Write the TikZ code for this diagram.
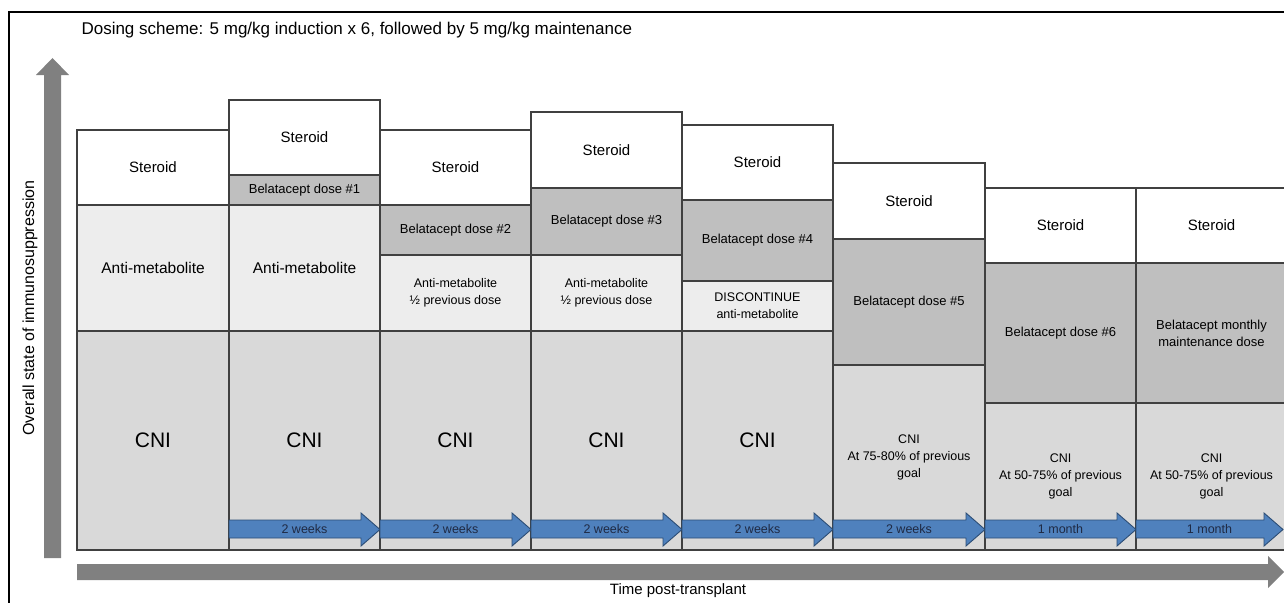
\documentclass[tikz,border=0pt]{standalone}
\usepackage{fontspec}
\setmainfont{Liberation Sans}
\usepackage{tikz}
\usetikzlibrary{positioning}

\definecolor{belagray}{HTML}{BFBFBF}
\definecolor{antigray}{HTML}{EDEDED}
\definecolor{cnigray}{HTML}{D9D9D9}
\definecolor{edgegray}{HTML}{404040}
\definecolor{axisgray}{HTML}{808080}
\definecolor{arrowblue}{HTML}{4F81BD}
\definecolor{arrowedge}{HTML}{2C4D75}
\definecolor{weektext}{HTML}{1F2A44}

\newcommand{\fsz}[2]{\fontsize{#1}{#2}\selectfont}

\tikzset{
  cell/.style={draw=edgegray, line width=1.1pt, rectangle, inner sep=0pt, outer sep=0pt, align=center},
  steroid/.style={cell, fill=white, font=\fsz{15}{18}},
  bela/.style={cell, fill=belagray, font=\fsz{13}{17}},
  anti/.style={cell, fill=antigray, font=\fsz{12.5}{17}},
  cni/.style={cell, fill=cnigray, font=\fsz{12.5}{17}},
  weekarrow/.style={fill=arrowblue, draw=arrowedge, line width=0.9pt, line join=miter},
  weeklabel/.style={text=weektext, font=\fsz{12.5}{15}, inner sep=0pt},
}

\begin{document}
\begin{tikzpicture}[x=1pt, y=-1pt]
   \useasboundingbox (0,0) rectangle (1284,602);
   \clip (0,0) rectangle (1284,602);

   \draw[line width=2pt] (9,610) -- (9,12) -- (1290,12);
   \node[anchor=west, font=\fsz{17}{20}] (title) at (78,30) {Dosing scheme: 5 mg/kg induction x 6, followed by 5 mg/kg maintenance};

   \node[steroid, minimum width=152, minimum height=75] (S1) at (153,167.5) {Steroid};
   \node[anti, minimum width=152, minimum height=126, font=\fsz{15.5}{18}, below=0pt of S1] (A1) {Anti-metabolite};
   \node[cni, minimum width=152, minimum height=219, font=\fsz{21}{24}, below=0pt of A1] (C1) {CNI};

   \node[steroid, minimum width=151, minimum height=75] (S2) at (304.5,137.5) {Steroid};
   \node[bela, minimum width=151, minimum height=30, below=0pt of S2] (B2) {Belatacept dose \#1};
   \node[anti, minimum width=151, minimum height=126, font=\fsz{15.5}{18}, below=0pt of B2] (A2) {Anti-metabolite};
   \node[cni, minimum width=151, minimum height=219, font=\fsz{21}{24}, below=0pt of A2] (C2) {CNI};

   \node[steroid, minimum width=151, minimum height=75] (S3) at (455.5,167.5) {Steroid};
   \node[bela, minimum width=151, minimum height=50, below=0pt of S3] (B3) {Belatacept dose \#2};
   \node[anti, minimum width=151, minimum height=76, below=0pt of B3] (A3) {Anti-metabolite\\½ previous dose};
   \node[cni, minimum width=151, minimum height=219, font=\fsz{21}{24}, below=0pt of A3] (C3) {CNI};

   \node[steroid, minimum width=151, minimum height=76] (S4) at (606.5,150) {Steroid};
   \node[bela, minimum width=151, minimum height=67, below=0pt of S4] (B4) {Belatacept dose \#3};
   \node[anti, minimum width=151, minimum height=76, below=0pt of B4] (A4) {Anti-metabolite\\½ previous dose};
   \node[cni, minimum width=151, minimum height=219, font=\fsz{21}{24}, below=0pt of A4] (C4) {CNI};

   \node[steroid, minimum width=151, minimum height=75] (S5) at (757.5,162.5) {Steroid};
   \node[bela, minimum width=151, minimum height=81, below=0pt of S5] (B5) {Belatacept dose \#4};
   \node[anti, minimum width=151, minimum height=50, below=0pt of B5] (D5) {DISCONTINUE\\anti-metabolite};
   \node[cni, minimum width=151, minimum height=219, font=\fsz{21}{24}, below=0pt of D5] (C5) {CNI};

   \node[steroid, minimum width=152, minimum height=76] (S6) at (909,201) {Steroid};
   \node[bela, minimum width=152, minimum height=126, below=0pt of S6] (B6) {Belatacept dose \#5};
   \node[cni, minimum width=152, minimum height=185, below=0pt of B6] (C6) {CNI\\At 75-80\% of previous\\goal};

   \node[steroid, minimum width=151, minimum height=75] (S7) at (1060.5,225.5) {Steroid};
   \node[bela, minimum width=151, minimum height=140, below=0pt of S7] (B7) {Belatacept dose \#6};
   \node[cni, minimum width=151, minimum height=147, below=0pt of B7] (C7) {CNI\\At 50-75\% of previous\\goal};

   \node[steroid, minimum width=151, minimum height=75] (S8) at (1211.5,225.5) {Steroid};
   \node[bela, minimum width=151, minimum height=140, below=0pt of S8] (B8) {Belatacept monthly\\maintenance dose};
   \node[cni, minimum width=151, minimum height=147, below=0pt of B8] (C8) {CNI\\At 50-75\% of previous\\goal};

   \foreach \xa/\xb/\lab [count=\i] in {229/380/2 weeks, 380/531/2 weeks, 531/682/2 weeks, 682/833/2 weeks, 833/985/2 weeks, 985/1136/1 month, 1136/1283/1 month} {
      \draw[weekarrow] (\xa,520) -- (\xb-19,520) -- (\xb-19,513) -- (\xb,529.5) -- (\xb-19,546) -- (\xb-19,538) -- (\xa,538) -- cycle;
      \node[weeklabel] (W\i) at ({(\xa+\xb)/2},529) {\lab};
   }

   \fill[axisgray] (44,558) -- (44,75) -- (36,75) -- (52.5,58) -- (69,75) -- (61,75) -- (61,558) -- cycle;
   \fill[axisgray] (77,564) -- (1268,564) -- (1268,556) -- (1284,572) -- (1268,588) -- (1268,580) -- (77,580) -- cycle;

   \node[rotate=90, font=\fsz{16}{19}] (ylab) at (30,308) {Overall state of immunosuppression};
   \node[font=\fsz{15}{18}] (xlab) at (678,591) {Time post-transplant};
\end{tikzpicture}
\end{document}
